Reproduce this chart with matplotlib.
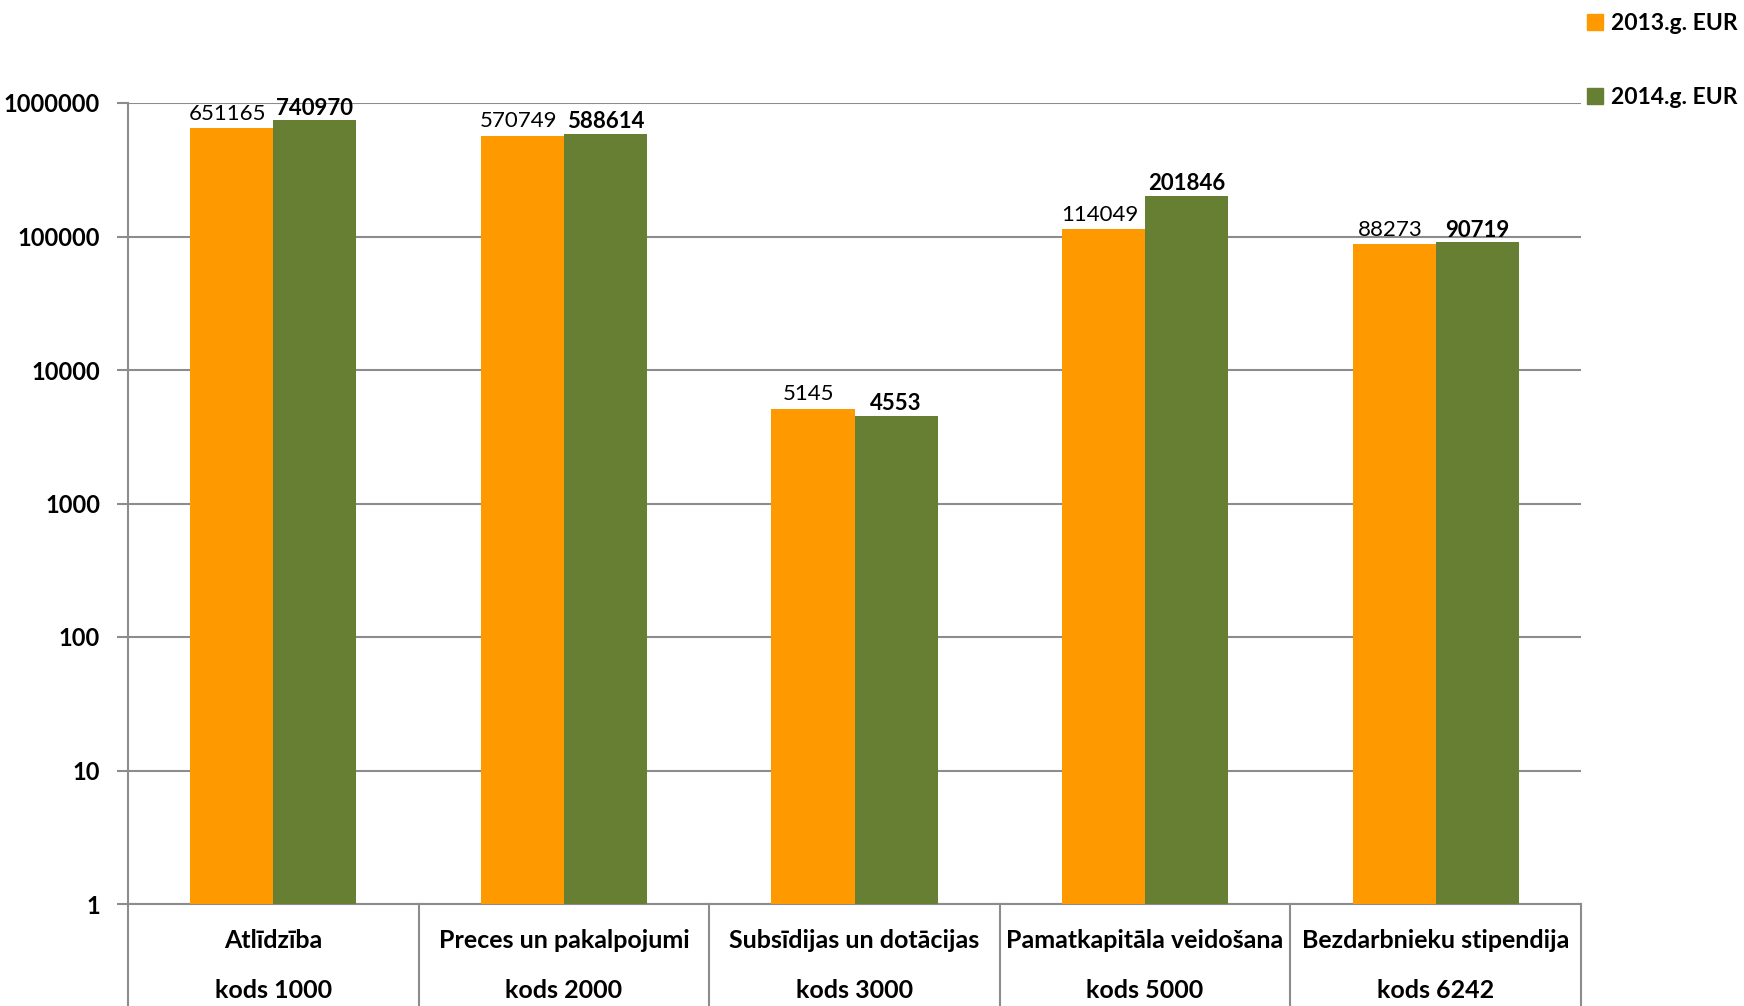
import matplotlib
matplotlib.use("Agg")
import matplotlib.pyplot as plt
import numpy as np
from matplotlib.lines import Line2D
from matplotlib.patches import Patch
import matplotlib.transforms as mtransforms

plt.rcParams['font.family'] = ['Lato', 'DejaVu Sans']

categories = ["Atlīdzība", "Preces un pakalpojumi", "Subsīdijas un dotācijas",
              "Pamatkapitāla veidošana", "Bezdarbnieku stipendija"]
codes = ["kods 1000", "kods 2000", "kods 3000", "kods 5000", "kods 6242"]
values_2013 = [651165, 570749, 5145, 114049, 88273]
values_2014 = [740970, 588614, 4553, 201846, 90719]
series_names = ["2013.g. EUR", "2014.g. EUR"]
yticks = [1, 10, 100, 1000, 10000, 100000, 1000000]

c13 = "#FF9900"
c14 = "#667F33"
grid_c = "#8C8C8C"

fig = plt.figure(figsize=(17.44, 10.06), dpi=100)
ax = fig.add_axes([128/1744, 102/1006, (1581-128)/1744, (904-103)/1006])

x = np.arange(len(categories))
w = 0.286
ax.bar(x - w/2, values_2013, width=w, color=c13, zorder=3)
ax.bar(x + w/2, values_2014, width=w, color=c14, zorder=3)

ax.set_yscale('log')
ax.set_ylim(1, 1000000)
ax.set_xlim(-0.5, len(categories) - 0.5)
ax.set_yticks(yticks)
ax.set_yticklabels([str(t) for t in yticks], fontsize=17, fontweight='bold')
ax.yaxis.set_minor_locator(matplotlib.ticker.NullLocator())
ax.tick_params(axis='y', length=8, width=1.5, color=grid_c, pad=12)
ax.set_xticks([])
ax.grid(axis='y', color=grid_c, linewidth=1.5, zorder=0)
for s in ['top', 'right']:
    ax.spines[s].set_visible(False)
for s in ['left', 'bottom']:
    ax.spines[s].set_color(grid_c)
    ax.spines[s].set_linewidth(1.5)

for i in range(len(categories)):
    ax.annotate(str(values_2013[i]), (x[i] - w/2, values_2013[i]), xytext=(-3, 3),
                textcoords='offset points', ha='center', va='bottom', fontsize=16, zorder=4)
    ax.annotate(str(values_2014[i]), (x[i] + w/2, values_2014[i]), xytext=(0, 1),
                textcoords='offset points', ha='center', va='bottom', fontsize=16,
                fontweight='bold', zorder=4)

# category table below axis
trans = mtransforms.blended_transform_factory(ax.transData, ax.transAxes)
ax_h_px = 904 - 103
for i in range(len(categories)):
    ax.text(x[i], -36/ax_h_px, categories[i], transform=trans, ha='center', va='center',
            fontsize=18, fontweight='bold')
    ax.text(x[i], -86/ax_h_px, codes[i], transform=trans, ha='center', va='center',
            fontsize=18, fontweight='bold')
for b in np.arange(len(categories) + 1) - 0.5:
    ax.add_line(Line2D([b, b], [0, -110/ax_h_px], transform=trans, color=grid_c,
                       linewidth=1.5, clip_on=False))

handles = [Patch(color=c13), Patch(color=c14)]
fig.legend(handles, series_names, loc='upper left', bbox_to_anchor=(1578/1744, 1 - 4/1006),
           frameon=False, prop={'size': 16.5, 'weight': 'bold'}, handlelength=0.7,
           handleheight=0.7, handletextpad=0.35, labelspacing=2.3, borderaxespad=0)

fig.savefig("out.png", dpi=100)
